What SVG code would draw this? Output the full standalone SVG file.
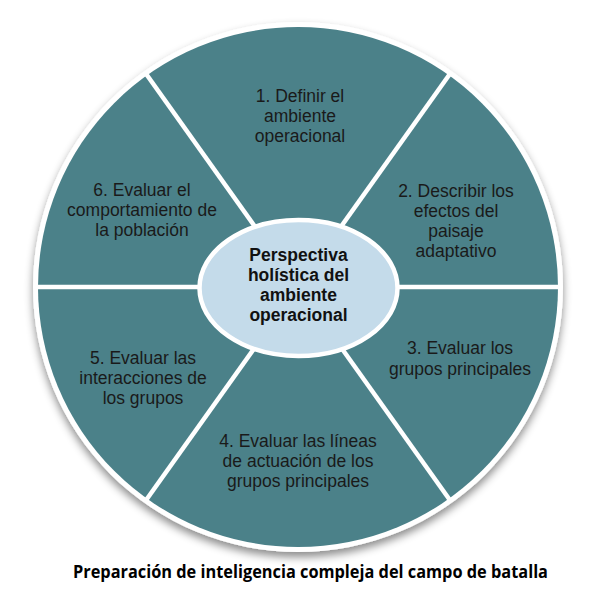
<svg xmlns="http://www.w3.org/2000/svg" width="612" height="598" viewBox="0 0 612 598">
  <style>
    .lbl { font-family: "Liberation Sans", Arial, sans-serif; font-size: 17.5px; fill: #1a1a1a; text-anchor: middle; }
    .ctr { font-family: "Liberation Sans", Arial, sans-serif; font-size: 17.5px; font-weight: bold; fill: #111; text-anchor: middle; }
    .cap { font-family: "Open Sans", "Noto Sans", sans-serif; font-size: 17px; font-weight: bold; fill: #000; }
    .div { stroke: #ffffff; stroke-width: 4.5; fill: none; }
  </style>
  <defs>
    <filter id="shadow" x="-20%" y="-20%" width="140%" height="140%">
      <feDropShadow dx="0" dy="5" stdDeviation="4" flood-color="#000" flood-opacity="0.45"/>
    </filter>
  </defs>
  <rect width="612" height="598" fill="#ffffff"/>
  <g id="wheel">
    <circle cx="298" cy="287" r="265" fill="#ffffff" filter="url(#shadow)"/>
    <circle cx="298" cy="287" r="260" fill="#4b8189"/>
  </g>
  <g id="connectors">
    <line class="div" x1="298" y1="287" x2="146" y2="73.7"/>
    <line class="div" x1="298" y1="287" x2="450" y2="73.7"/>
    <line class="div" x1="298" y1="287" x2="146" y2="500.3"/>
    <line class="div" x1="298" y1="287" x2="450" y2="500.3"/>
    <line class="div" x1="298" y1="287" x2="36" y2="287"/>
    <line class="div" x1="298" y1="287" x2="560" y2="287"/>
  </g>
  <g id="node1">
    <text class="lbl" x="300" y="102">1. Definir el</text>
    <text class="lbl" x="300" y="122">ambiente</text>
    <text class="lbl" x="300" y="142">operacional</text>
  </g>
  <g id="node2">
    <text class="lbl" x="456" y="197">2. Describir los</text>
    <text class="lbl" x="456" y="217">efectos del</text>
    <text class="lbl" x="456" y="237">paisaje</text>
    <text class="lbl" x="456" y="257">adaptativo</text>
  </g>
  <g id="node3">
    <text class="lbl" x="460" y="354">3. Evaluar los</text>
    <text class="lbl" x="460" y="375">grupos principales</text>
  </g>
  <g id="node4">
    <text class="lbl" x="298" y="447">4. Evaluar las líneas</text>
    <text class="lbl" x="298" y="467">de actuación de los</text>
    <text class="lbl" x="298" y="487">grupos principales</text>
  </g>
  <g id="node5">
    <text class="lbl" x="143" y="364">5. Evaluar las</text>
    <text class="lbl" x="143" y="384">interacciones de</text>
    <text class="lbl" x="143" y="404">los grupos</text>
  </g>
  <g id="node6">
    <text class="lbl" x="142" y="196">6. Evaluar el</text>
    <text class="lbl" x="142" y="216">comportamiento de</text>
    <text class="lbl" x="142" y="236">la población</text>
  </g>
  <g id="center">
    <ellipse cx="298.5" cy="288" rx="99" ry="68" fill="#c4dbea" stroke="#ffffff" stroke-width="4.5"/>
    <text class="ctr" x="298.5" y="261">Perspectiva</text>
    <text class="ctr" x="298.5" y="281">holística del</text>
    <text class="ctr" x="298.5" y="301">ambiente</text>
    <text class="ctr" x="298.5" y="321">operacional</text>
  </g>
  <g id="caption">
    <text class="cap" x="73" y="578" textLength="475" lengthAdjust="spacingAndGlyphs">Preparación de inteligencia compleja del campo de batalla</text>
  </g>
</svg>
